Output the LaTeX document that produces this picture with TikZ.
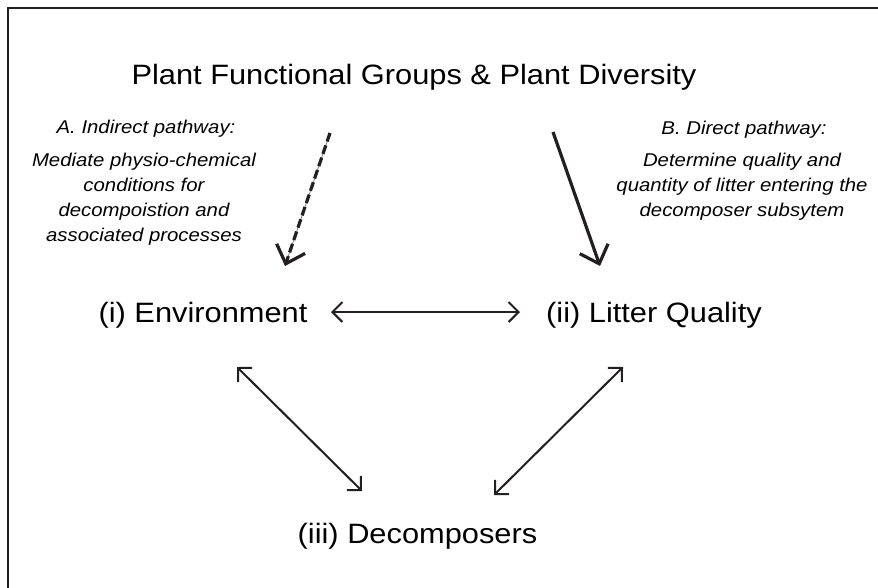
\documentclass[tikz,border=0pt]{standalone}
\usepackage{fontspec}
\setmainfont{Liberation Sans}
\usetikzlibrary{arrows.meta}
\definecolor{ink}{HTML}{231F20}
\tikzset{
  big/.style={font=\fontsize{28}{32}\selectfont, text=black, inner sep=0pt, anchor=base, xscale=1.1},
  small/.style={font=\fontsize{18.5}{22}\selectfont\itshape, text=black, inner sep=0pt, anchor=base, xscale=1.1},
  path arrow/.style={draw=ink, line width=3.2pt, -{Straight Barb[length=16pt, width=30pt]}},
  link/.style={draw=ink, line width=2pt, {Straight Barb[length=10pt, width=20pt]}-{Straight Barb[length=10pt, width=20pt]}}
}
\begin{document}
\begin{tikzpicture}[x=1pt, y=-1pt]
\useasboundingbox (0,0) rectangle (878,587);
\fill[white] (0,0) rectangle (878,587);
\draw[ink, line width=2.2pt] (890,8) -- (8,8) -- (8,600);

\node[big] (title) at (414,84) {Plant Functional Groups \& Plant Diversity};

\node[small] (atitle) at (146,133) {A. Indirect pathway:};
\node[small] (a1) at (144,166) {Mediate physio-chemical};
\node[small] (a2) at (144,191) {conditions for};
\node[small] (a3) at (144,216) {decompoistion and};
\node[small] (a4) at (144,241) {associated processes};

\node[small] (btitle) at (744,134) {B. Direct pathway:};
\node[small] (b1) at (742,166) {Determine quality and};
\node[small] (b2) at (742,191) {quantity of litter entering the};
\node[small] (b3) at (742,216) {decomposer subsytem};

\node[big] (env) at (203,322) {(i) Environment};
\node[big] (lit) at (654,322) {(ii) Litter Quality};
\node[big] (dec) at (417.5,543) {(iii) Decomposers};

\coordinate (as) at (330,133);
\coordinate (ae) at (285,266);
\coordinate (bs) at (553,132);
\coordinate (be) at (600,266);
\coordinate (el) at (331,312);
\coordinate (lr) at (520,312);
\coordinate (ed) at (237,367);
\coordinate (de) at (362,491);
\coordinate (ld) at (623,367);
\coordinate (dl) at (494,495);

\draw[gray, line width=0.8pt] (as) -- (ae);
\draw[path arrow, dash pattern=on 9pt off 4pt] (as) -- (ae);
\draw[path arrow] (bs) -- (be);

\draw[link] (el) -- (lr);
\draw[link] (ed) -- (de);
\draw[link] (ld) -- (dl);
\end{tikzpicture}
\end{document}
